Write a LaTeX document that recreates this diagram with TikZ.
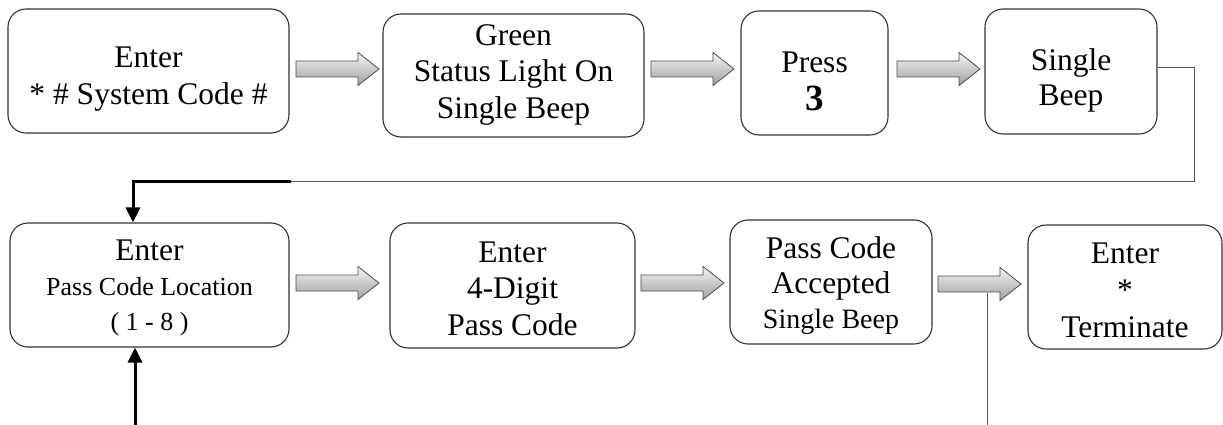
\documentclass[tikz,border=0pt]{standalone}
\usepackage{fontspec}
\setmainfont{Liberation Serif}
\usetikzlibrary{arrows.meta,calc}
\begin{document}
\begin{tikzpicture}[x=1pt,y=-1pt,
  box/.style={draw=black!80, line width=1.1pt, rounded corners=18pt, inner sep=0pt},
  txt/.style={align=center, inner sep=0pt, font=\fontsize{31.5}{35}\selectfont},
  thinline/.style={draw=black!65, line width=1pt},
  thickline/.style={draw=black, line width=3pt},
  tipped/.style={-{Triangle[length=15pt,width=14pt]}},
  blockarrow/.pic={
    \shade[top color=gray!8, bottom color=gray!75, draw=black!70, line width=0.8pt]
      (0,-8) -- (62,-8) -- (62,-16.5) -- (83,0) -- (62,16.5) -- (62,8) -- (0,8) -- cycle;
  }]
\fill[white] (0,0) rectangle (1223,425);
\useasboundingbox (0,0) rectangle (1223,425);

% top row
\node[box, minimum width=281pt, minimum height=124pt] (b1) at (148.5,71) {};
\node[txt, font=\fontsize{31.5}{36.5}\selectfont] (t1) at ($(b1.center)+(0,8)$) {Enter\\* \# System Code \#};
\node[box, minimum width=261pt, minimum height=123pt] (b2) at (513.5,75.5) {};
\node[txt, font=\fontsize{31.5}{36.5}\selectfont] (t2) at ($(b2.center)+(0,-1)$) {Green\\Status Light On\\Single Beep};
\node[box, minimum width=147pt, minimum height=124pt] (b3) at (814.5,73) {};
\node[txt, font=\fontsize{31.5}{38}\selectfont] (t3) at ($(b3.center)+(0,8)$) {Press\\{\fontsize{37}{38}\selectfont\bfseries 3}};
\node[box, minimum width=172pt, minimum height=125pt] (b4) at (1071,71.5) {};
\node[txt] (t4) at ($(b4.center)+(0,9)$) {Single\\Beep};

% bottom row
\node[box, minimum width=279pt, minimum height=124pt] (b5) at (149.5,285) {};
\node[txt] (t5) at ($(b5.center)+(0,3)$) {Enter\\{\fontsize{26}{33}\selectfont Pass Code Location}\\{\fontsize{26}{32}\selectfont ( 1 - 8 )}};
\node[box, minimum width=245pt, minimum height=125pt] (b6) at (512.5,285.5) {};
\node[txt, font=\fontsize{31.5}{36.5}\selectfont] (t6) at ($(b6.center)+(0,3)$) {Enter\\4-Digit\\Pass Code};
\node[box, minimum width=202pt, minimum height=124pt] (b7) at (831,282) {};
\node[txt] (t7) at ($(b7.center)+(0,4)$) {Pass Code\\Accepted\\{\fontsize{28}{33}\selectfont Single Beep}};
\node[box, minimum width=194pt, minimum height=124pt] (b8) at (1125,287) {};
\node[txt, font=\fontsize{31.5}{37}\selectfont] (t8) at ($(b8.center)+(0,3)$) {Enter\\*\\Terminate};

% block arrows
\pic (a1) at (296,69) {blockarrow};
\pic (a2) at (651,69) {blockarrow};
\pic (a3) at (897,69) {blockarrow};
\pic (a4) at (296,283) {blockarrow};
\pic (a5) at (641,283) {blockarrow};
\pic (a6) at (938,284) {blockarrow};

% return connector
\coordinate (c1) at (1194,68);
\coordinate (c2) at (1194,181);
\coordinate (c3) at (291,181);
\coordinate (c4) at (133,181);
\draw[thinline] (b4.east |- c1) -- (c1) -- (c2) -- (c3);
\draw[thickline, tipped] (c3) -- (c4) -- (c4 |- b5.north);

% bottom connectors
\coordinate (d1) at (135,425);
\draw[thickline, tipped] (d1) -- (d1 |- b5.south);
\coordinate (e1) at (987,293);
\coordinate (e2) at (987,425);
\draw[thinline] (e1) -- (e2);
\end{tikzpicture}
\end{document}
